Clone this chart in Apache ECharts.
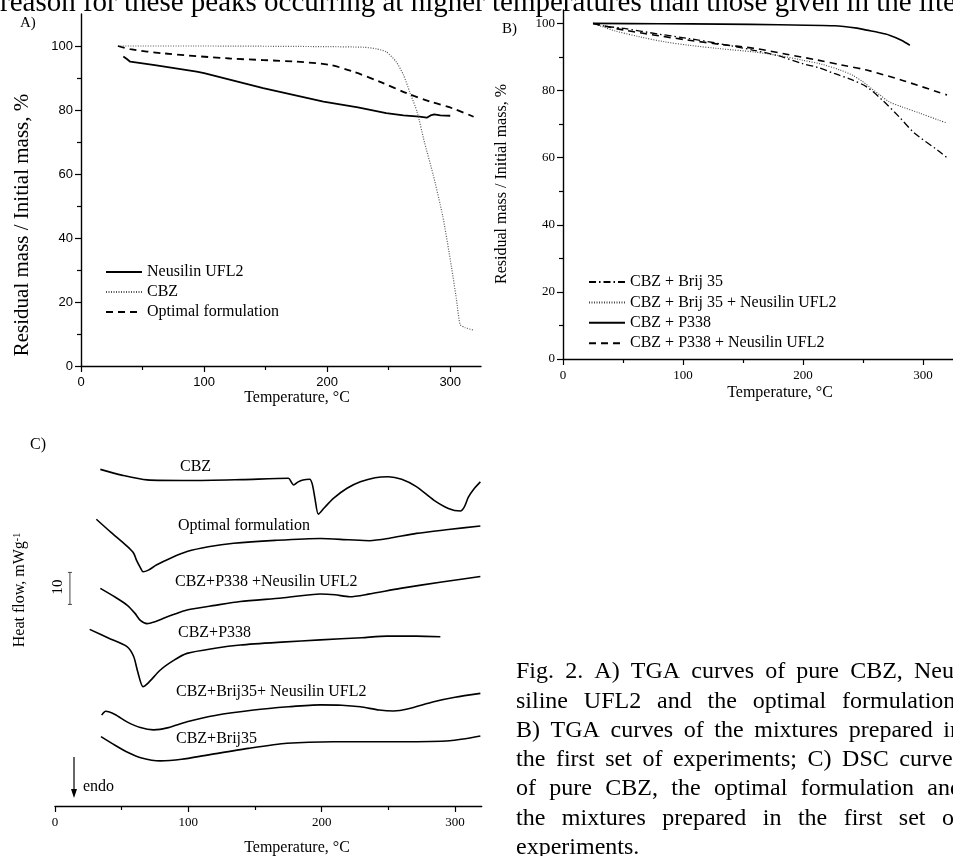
<!DOCTYPE html>
<html>
<head>
<meta charset="utf-8">
<script src="https://cdn.jsdelivr.net/npm/echarts@6/dist/echarts.min.js"></script>
<style>
  html, body { margin: 0; padding: 0; background: #fff; }
  #chart { width: 953px; height: 856px; }
</style>
</head>
<body>
<div id="chart"></div>
<script>
// ---- panel A: TGA of pure components (temperature °C, residual mass %) ----
const tgaNeusilin = [[34.4, 96.7], [37, 96], [40, 95.1], [60, 94], [94, 92], [100, 91.5], [148, 86.8], [197, 82.6], [225, 80.8], [248, 79], [262, 78.3], [275, 77.9], [281, 77.6], [284, 78.3], [287, 78.6], [292, 78.3], [300, 78.2]];
const tgaCbz = [[30, 100], [100, 100], [200, 99.8], [230, 99.6], [240, 99.1], [248, 98.2], [256, 95.1], [262, 91], [267, 85.7], [273, 79.5], [279, 70], [286, 60], [294, 46.7], [301, 31], [305, 21], [308, 13], [312, 12], [319, 11.2]];
const tgaOptimal = [[30, 100], [40, 99], [67, 97.7], [121, 96.1], [175, 95.1], [202, 94.1], [221, 92], [243, 88.8], [265, 85.2], [284, 82.6], [302, 80.5], [319, 77.9]];
const namesA = ['Neusilin UFL2', 'CBZ', 'Optimal formulation'];

// ---- panel B: TGA of the mixtures ----
const tgaBrij = [[25, 100], [35, 99.2], [51, 98.5], [80, 96.8], [105, 95.5], [130, 94], [159, 92], [180, 90.3], [199, 88.1], [213, 86.8], [226, 85.1], [240, 83.3], [253, 81.1], [266, 77.2], [280, 72.2], [293, 67.3], [313, 62], [320, 60]];
const tgaBrijNeus = [[25, 100], [33, 99], [43, 97.8], [64, 96], [85, 94.5], [105, 93.5], [130, 92.5], [159, 91.5], [180, 90.4], [199, 89.1], [216, 87.8], [231, 86.1], [241, 84.6], [250, 82.6], [257, 80.6], [264, 78.7], [272, 76.6], [282, 75.2], [297, 73.3], [313, 71.2], [320, 70.3]];
const tgaP338 = [[25, 100], [80, 99.9], [132, 99.8], [180, 99.6], [226, 99.3], [245, 98.6], [253, 98], [263, 97.3], [272, 96.5], [282, 95], [289, 93.5]];
const tgaP338Neus = [[25, 100], [35, 99.2], [51, 98], [80, 96.3], [105, 95], [130, 93.8], [159, 92.6], [185, 90.9], [212, 89.1], [232, 87.6], [253, 86.1], [283, 83], [313, 79.5], [320, 78.7]];
const namesB = ['CBZ + Brij 35', 'CBZ + Brij 35 + Neusilin UFL2', 'CBZ + P338', 'CBZ + P338 + Neusilin UFL2'];

// ---- panel C: DSC curves, stacked with offsets (arbitrary heat-flow units) ----
const dscCbz = [[34, 105.2], [50, 103.4], [69, 101.9], [101, 101.7], [140, 102], [175, 102.4], [177.5, 101], [179, 100.3], [182, 101.2], [186, 101.9], [191, 102.1], [193, 100.5], [195, 96], [197.5, 91.2], [202, 93.2], [209, 96.2], [219, 99.3], [229, 101.3], [240, 102.6], [250, 102.9], [260, 102.1], [271, 99.8], [284, 95.6], [295, 93], [304, 92.2], [307, 93.5], [310, 96.5], [314, 99], [319, 101.3]];
const dscOptimal = [[31, 89.6], [42, 85.5], [54, 81.2], [59, 79], [61, 76.9], [64, 74.5], [66, 73.2], [70, 73.7], [76, 75.3], [87, 77.5], [99, 79.5], [115, 81], [134, 82.1], [165, 83], [199, 83.6], [220, 83.2], [236, 82.9], [250, 83.6], [271, 85.2], [295, 86.4], [319, 87.5]];
const dscP338Neus = [[34, 68], [45, 65.3], [54, 62.8], [60, 60.2], [64, 58], [69, 57], [75, 57.6], [81, 58.6], [90, 60], [99, 61.25], [120, 62.7], [139, 63.9], [170, 65], [199, 66.25], [210, 66], [221, 65.4], [235, 66.2], [259, 68], [290, 70], [319, 71.7]];
const dscP338 = [[26, 55.2], [40, 52.5], [54, 49.8], [59, 46.7], [62, 42], [66, 37.3], [70, 38.5], [79, 42.5], [89, 45.5], [99, 47.7], [120, 49.3], [139, 50.3], [170, 51.2], [199, 51.9], [230, 52.6], [249, 53.1], [271, 53.1], [289, 52.9]];
const dscBrijNeus = [[35, 28.4], [38, 29.6], [45, 28.6], [54, 26.3], [64, 24.5], [74, 23.8], [85, 24.5], [99, 26.3], [120, 28.3], [149, 30], [175, 31], [199, 31.6], [215, 31.5], [229, 31], [243, 30], [254, 29.7], [265, 30.4], [284, 32.6], [300, 34], [319, 35.2]];
const dscBrij = [[34.5, 21.7], [45, 19], [54, 16.9], [65, 15], [79, 14.1], [95, 14.6], [114, 15.9], [145, 18], [174, 19.6], [209, 20.1], [259, 20.1], [296, 20.4], [319, 21.9]];
const dscLabels = ['CBZ', 'Optimal formulation', 'CBZ+P338 +Neusilin UFL2', 'CBZ+P338', 'CBZ+Brij35+ Neusilin UFL2', 'CBZ+Brij35'];
const scaleBar = [[11.2, 63, 73]]; // 10 units of heat flow

const xTicks = [0, 100, 200, 300];
const yTicks = [0, 20, 40, 60, 80, 100];

const captionLines = [
    'Fig. 2. A) TGA curves of pure CBZ, Neu-',
    'siline UFL2 and the optimal formulation;',
    'B) TGA curves of the mixtures prepared in',
    'the first set of experiments; C) DSC curves',
    'of pure CBZ, the optimal formulation and',
    'the mixtures prepared in the first set of',
    'experiments.'
];
const topLine = 'reason for these peaks occurring at higher temperatures than those given in the literature';

const SERIF = '"Liberation Serif", "Times New Roman", serif';
const SANS = '"Liberation Sans", Arial, sans-serif';

const chart = echarts.init(document.getElementById('chart'));

// ======================
// AXES
// ======================

function xAxisFor(gridIndex, max, family, size) {
    return {
        type: 'value', gridIndex, min: 0, max, interval: 100,
        axisLine: { lineStyle: { color: '#000', width: 1.4 } },
        axisTick: { length: 6, customValues: xTicks, lineStyle: { color: '#000', width: 1.2 } },
        minorTick: { show: true, splitNumber: 2, length: 4, lineStyle: { color: '#000', width: 1.2 } },
        axisLabel: { color: '#000', fontFamily: family, fontSize: size, margin: 10, customValues: xTicks },
        splitLine: { show: false }
    };
}

function yAxisFor(gridIndex, max, family, size) {
    return {
        type: 'value', gridIndex, min: 0, max, interval: 20,
        axisLine: { lineStyle: { color: '#000', width: 1.4 } },
        axisTick: { length: 6, customValues: yTicks, lineStyle: { color: '#000', width: 1.2 } },
        minorTick: { show: true, splitNumber: 2, length: 4, lineStyle: { color: '#000', width: 1.2 } },
        axisLabel: { color: '#000', fontFamily: family, fontSize: size, margin: 8, customValues: yTicks },
        splitLine: { show: false }
    };
}

function line(name, data, axis, type, width, color, smooth) {
    return {
        name, type: 'line', data, xAxisIndex: axis, yAxisIndex: axis,
        symbol: 'none', smooth: smooth || 0, silent: true,
        lineStyle: { color: color || '#000', width, type },
        itemStyle: { color: color || '#000' }
    };
}

function legendFor(names, left, top, gap) {
    return {
        data: names, orient: 'vertical', left, top, padding: 0,
        itemWidth: 36, itemHeight: 12, itemGap: gap, selectedMode: false,
        itemStyle: { opacity: 0, borderWidth: 0 },
        textStyle: { fontFamily: SERIF, fontSize: 16, color: '#000' }
    };
}

// ======================
// TEXT (graphic)
// ======================

const measure = document.createElement('canvas').getContext('2d');

function textEl(text, x, y, size, extra) {
    return Object.assign({
        type: 'text', x, y, silent: true,
        style: Object.assign({ text, font: size + 'px ' + SERIF, fill: '#000', align: 'left', verticalAlign: 'middle' }, extra && extra.style)
    }, extra && extra.rotation ? { rotation: extra.rotation } : {});
}

function justified(lines, left, right, top, step, size) {
    const font = size + 'px ' + SERIF;
    measure.font = font;
    const out = [];
    lines.forEach((ln, li) => {
        const words = ln.split(' ');
        const widths = words.map(w => measure.measureText(w).width);
        const total = widths.reduce((a, b) => a + b, 0);
        const last = li === lines.length - 1;
        const gap = (!last && words.length > 1) ? (right - left - total) / (words.length - 1) : measure.measureText(' ').width;
        let x = left;
        words.forEach((w, i) => {
            out.push(textEl(w, x, top + li * step, size));
            x += widths[i] + gap;
        });
    });
    return out;
}

const rot = Math.PI / 2;
const centred = { style: { align: 'center' } };
const vertical = { rotation: rot, style: { align: 'center' } };

const graphics = [
    textEl(topLine, 0, 3, 29),
    textEl('A)', 20, 23, 15),
    textEl('B)', 502, 29, 15),
    textEl('C)', 30, 445, 16),
    textEl('Residual mass / Initial mass, %', 22, 225, 21, vertical),
    textEl('Temperature, °C', 297, 398, 16, centred),
    textEl('Residual mass / Initial mass, %', 502, 184, 16, vertical),
    textEl('Temperature, °C', 780, 393, 16, centred),
    textEl('Temperature, °C', 297, 848, 16, centred),
    {
        type: 'text', x: 20, y: 590, rotation: rot, silent: true,
        style: {
            text: '{a|Heat flow, mWg}{s|-1}', fill: '#000', align: 'center', verticalAlign: 'middle',
            rich: {
                a: { fontSize: 16, fontFamily: SERIF, fill: '#000' },
                s: { fontSize: 10, fontFamily: SERIF, fill: '#000', verticalAlign: 'top' }
            }
        }
    },
    textEl('10', 58, 587, 15, vertical),
    { type: 'line', silent: true, shape: { x1: 74, y1: 757, x2: 74, y2: 793 }, style: { stroke: '#000', lineWidth: 1.2 } },
    { type: 'polygon', silent: true, shape: { points: [[71, 789], [77, 789], [74, 798]] }, style: { fill: '#000' } },
    textEl('endo', 83, 787, 16),
    textEl(dscLabels[0], 180, 467, 16),
    textEl(dscLabels[1], 178, 526, 16),
    textEl(dscLabels[2], 175, 582, 16),
    textEl(dscLabels[3], 178, 633, 16),
    textEl(dscLabels[4], 176, 692, 16),
    textEl(dscLabels[5], 176, 739, 16)
].concat(justified(captionLines, 516, 962, 672, 29.3, 24));

// ======================
// OPTION
// ======================

const option = {
    backgroundColor: '#fff',
    animation: false,
    grid: [
        { left: 81, top: 14, width: 400, height: 352 },
        { left: 563, top: 10, width: 403, height: 349 },
        { left: 55, top: 454, width: 426.7, height: 352 }
    ],
    xAxis: [xAxisFor(0, 325, SANS, 13), xAxisFor(1, 325, SERIF, 13), xAxisFor(2, 320, SERIF, 13)],
    yAxis: [
        yAxisFor(0, 110, SANS, 13),
        yAxisFor(1, 104, SERIF, 13),
        { type: 'value', gridIndex: 2, min: 0, max: 110, show: false }
    ],
    legend: [legendFor(namesA, 105, 264, 4), legendFor(namesB, 588, 274, 4.4)],
    graphic: graphics,
    series: [
        line(namesA[0], tgaNeusilin, 0, 'solid', 1.8),
        line(namesA[1], tgaCbz, 0, [1, 1.5], 1.2, '#555', 0.2),
        line(namesA[2], tgaOptimal, 0, [7, 5], 1.8, '#000', 0.3),

        line(namesB[0], tgaBrij, 1, [7, 3, 1.5, 3], 1.3, '#000', 0.3),
        line(namesB[1], tgaBrijNeus, 1, [1, 1.5], 1.1, '#444', 0.3),
        line(namesB[2], tgaP338, 1, 'solid', 1.6, '#000', 0.3),
        line(namesB[3], tgaP338Neus, 1, [7, 5], 1.6, '#000', 0.3),

        line('DSC CBZ', dscCbz, 2, 'solid', 1.6, '#000', 0.25),
        line('DSC Optimal', dscOptimal, 2, 'solid', 1.6, '#000', 0.25),
        line('DSC P338 Neusilin', dscP338Neus, 2, 'solid', 1.6, '#000', 0.25),
        line('DSC P338', dscP338, 2, 'solid', 1.6, '#000', 0.25),
        line('DSC Brij Neusilin', dscBrijNeus, 2, 'solid', 1.6, '#000', 0.25),
        line('DSC Brij', dscBrij, 2, 'solid', 1.6, '#000', 0.25),
        {
            name: 'scale', type: 'custom', xAxisIndex: 2, yAxisIndex: 2, data: scaleBar, silent: true,
            renderItem: (params, api) => {
                const a = api.coord([api.value(0), api.value(1)]);
                const b = api.coord([api.value(0), api.value(2)]);
                const st = { stroke: '#444', lineWidth: 1 };
                return {
                    type: 'group', children: [
                        { type: 'line', shape: { x1: a[0], y1: a[1], x2: b[0], y2: b[1] }, style: st },
                        { type: 'line', shape: { x1: a[0] - 2, y1: a[1], x2: a[0] + 2, y2: a[1] }, style: st },
                        { type: 'line', shape: { x1: b[0] - 2, y1: b[1], x2: b[0] + 2, y2: b[1] }, style: st }
                    ]
                };
            }
        }
    ]
};

try {
    chart.setOption(option);
} catch (error) {
    console.error('[TGA/DSC] setOption error:', error);
}
</script>
</body>
</html>
